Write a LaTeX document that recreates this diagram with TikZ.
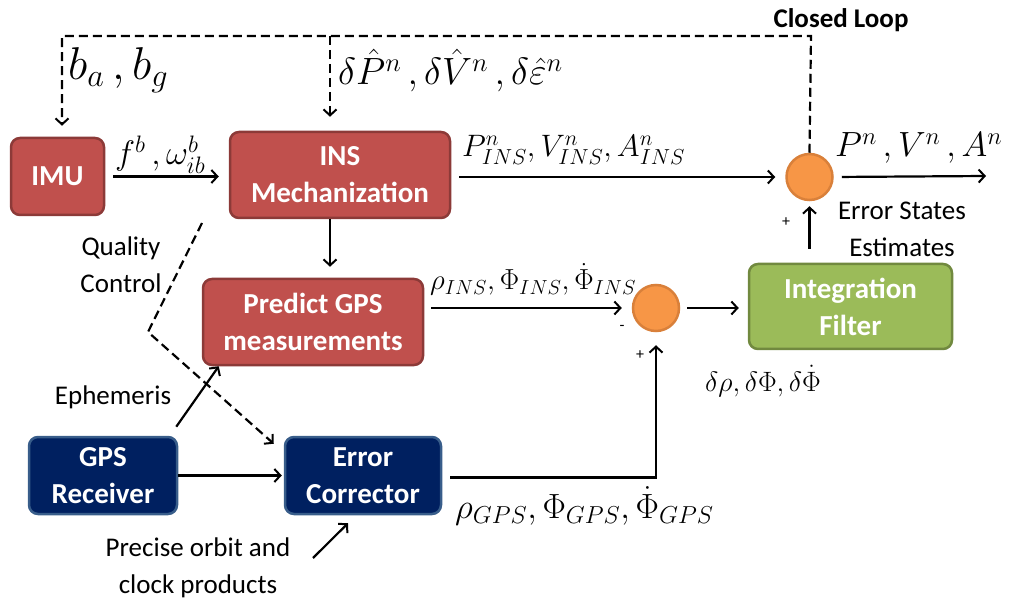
\RequirePackage{fix-cm}
\documentclass[tikz,border=0pt]{standalone}
\usepackage{fontspec}
\setsansfont{Carlito}
\usetikzlibrary{arrows.meta}

\definecolor{boxred}{HTML}{C0504D}
\definecolor{boxredline}{HTML}{8C3A38}
\definecolor{boxnavy}{HTML}{002060}
\definecolor{boxnavyline}{HTML}{385D8A}
\definecolor{boxgreen}{HTML}{9BBB59}
\definecolor{boxgreenline}{HTML}{71893F}
\definecolor{sumorange}{HTML}{F79646}
\definecolor{sumline}{HTML}{D9803A}

\newcommand{\boxfont}{\sffamily\bfseries\fontsize{29}{37}\selectfont}
\newcommand{\notefont}{\sffamily\fontsize{27}{37}\selectfont}

\begin{document}
\begin{tikzpicture}[x=1pt,y=-1pt,
  box/.style={draw, rounded corners=9pt, line width=2.5pt, text=white,
    font=\boxfont, align=center, inner sep=0pt},
  redbox/.style={box, fill=boxred, draw=boxredline},
  navybox/.style={box, fill=boxnavy, draw=boxnavyline},
  greenbox/.style={box, fill=boxgreen, draw=boxgreenline},
  sum/.style={circle, fill=sumorange, draw=sumline, line width=2.5pt,
    minimum size=46pt, inner sep=0pt},
  flow/.style={line width=2.2pt,
    -{Straight Barb[length=6pt,width=13pt,line width=2pt]}},
  loopline/.style={flow, dash pattern=on 9pt off 5pt},
  note/.style={font=\notefont, align=center, inner sep=0pt},
  mathlbl/.style={anchor=base west, inner sep=0pt, font=\fontsize{#1}{#1}\selectfont},
]
\useasboundingbox (0,0) rectangle (1013,604);

% blocks
\node[redbox, minimum width=93pt, minimum height=77pt] (imu) at (57.5,176.5) {IMU};
\node[redbox, minimum width=220pt, minimum height=86pt] (ins) at (340,175) {INS\\Mechanization};
\node[redbox, minimum width=220pt, minimum height=86pt] (pred) at (313,322) {Predict GPS\\measurements};
\node[navybox, minimum width=148pt, minimum height=77pt] (gps) at (103,475.5) {GPS\\Receiver};
\node[navybox, minimum width=156pt, minimum height=77pt] (corr) at (363,475.5) {Error\\Corrector};
\node[greenbox, minimum width=203pt, minimum height=85pt] (filt) at (850.5,306.5) {Integration\\Filter};
\node[sum] (sum1) at (809.5,177) {};
\node[sum] (sum2) at (656,308) {};

% free ends and bends
\coordinate (out) at (986,176);
\coordinate (top) at (0,36);
\coordinate (qstart) at (202,223);
\coordinate (qbend) at (148,332);
\coordinate (pstart) at (313,558);

% main signal flow
\draw[flow, shorten <=8pt, shorten >=10pt] (imu.east) -- (imu.east -| ins.west);
\draw[flow, shorten <=8pt, shorten >=10pt] (sum1.west -| ins.east) -- (sum1.west);
\draw[flow, shorten <=8pt] (sum1.east) -- (out);
\draw[flow, shorten >=11pt] ([xshift=-10pt]ins.south) -- ([xshift=-10pt]ins.south |- pred.north);
\draw[flow, shorten <=7pt, shorten >=10pt] (sum2.west -| pred.east) -- (sum2.west);
\draw[flow, shorten <=7pt, shorten >=9pt] (sum2.east) -- (sum2.east -| filt.west);
\draw[flow, shorten <=14pt, shorten >=5pt] (sum1.south |- filt.north) -- (sum1.south);
\draw[flow, shorten >=2pt] (gps.east |- corr.west) -- (corr.west);
\draw[flow, shorten <=8pt, shorten >=13pt] ([yshift=-2pt]corr.east) -| (sum2.south);
\draw[flow] ([shift={(-2,-9)}]gps.north east) -- ([xshift=17pt]pred.south west);
\draw[flow] (pstart) -- ([shift={(-15,8)}]corr.south);

% quality control path
\draw[loopline] (qstart) -- (qbend) -- ([shift={(-10,8)}]corr.north west);

% closed loop feedback
\draw[loopline, shorten >=11pt] (sum1.north) -- ([xshift=1.5pt]sum1.north |- top)
  -| ([xshift=4.5pt]imu.north);
\draw[loopline, shorten >=14pt] ([xshift=-10pt]ins.north |- top) -- ([xshift=-10pt]ins.north);

% signal labels
\node[mathlbl=46] (lbias) at (68,80) {$b_a\,, b_g$};
\node[mathlbl=38] (lcorr) at (338,85) {$\delta\hat{P}^n\,, \delta\hat{V}^n\,, \delta\hat{\varepsilon}^n$};
\node[mathlbl=34] (limu) at (115,165) {$f^b\,, \omega^b_{ib}$};
\node[mathlbl=31] (lins) at (462,157) {$P^n_{INS}, V^n_{INS}, A^n_{INS}$};
\node[mathlbl=35] (lout) at (835,157) {$P^n\,, V^n\,, A^n$};
\node[mathlbl=29] (lrins) at (430,290) {$\rho_{INS}, \Phi_{INS}, \dot{\Phi}_{INS}$};
\node[mathlbl=35] (lrgps) at (455,518) {$\rho_{GPS}, \Phi_{GPS}, \dot{\Phi}_{GPS}$};
\node[mathlbl=28] (ldiff) at (705,391) {$\delta\rho, \delta\Phi, \delta\dot{\Phi}$};

% notes
\node[note, font=\sffamily\bfseries\fontsize{27}{30}\selectfont] (lloop) at (841,20) {Closed Loop};
\node[note] (lerr) at (902,229.5) {Error States\\Estimates};
\node[note] (lqual) at (121,265) {Quality\\Control};
\node[note] (leph) at (113,397) {Ephemeris};
\node[note] (lprec) at (198,567.5) {Precise orbit and\\clock products};
\node[note, font=\sffamily\fontsize{16}{16}\selectfont] (lp1) at (786,222) {+};
\node[note, font=\sffamily\fontsize{16}{16}\selectfont] (lm2) at (622,328) {-};
\node[note, font=\sffamily\fontsize{16}{16}\selectfont] (lp2) at (640,355) {+};
\end{tikzpicture}
\end{document}
